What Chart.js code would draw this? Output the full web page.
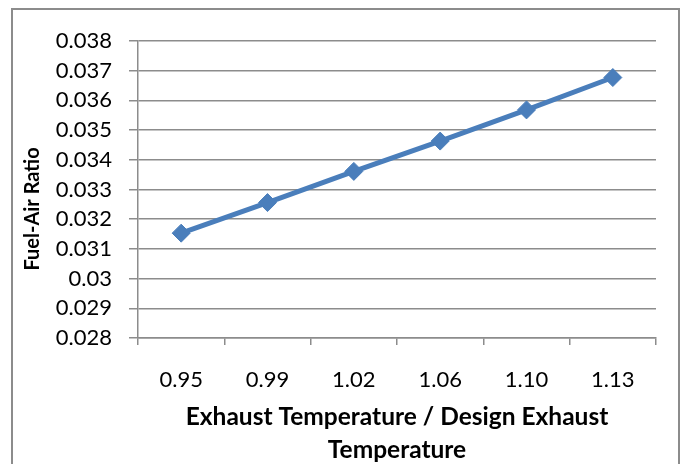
<!DOCTYPE html>
<html>
<head>
<meta charset="utf-8">
<script src="https://cdn.jsdelivr.net/npm/chart.js@4"></script>
<style>
  html, body { margin: 0; padding: 0; background: #fff; }
  #wrap { position: relative; width: 689px; height: 464px; }
</style>
</head>
<body>
<div id="wrap"><canvas id="chart" width="689" height="464"></canvas></div>
<script>
const categories = ["0.95", "0.99", "1.02", "1.06", "1.10", "1.13"];
const fuelAirRatio = [0.03153, 0.03256, 0.03361, 0.03463, 0.03568, 0.03677];
const yMin = 0.028;
const yMax = 0.038;
const yStep = 0.001;

const xTitle = ["Exhaust Temperature / Design Exhaust", "Temperature"];
// trailing spaces nudge the rotated title down a bit, like the original
const yTitle = "Fuel-Air Ratio" + "\u00a0".repeat(8);

// outer frame around the whole chart
const framePlugin = {
  id: "frame",
  beforeDraw(chart) {
    const ctx = chart.ctx;
    ctx.save();
    ctx.fillStyle = "#fff";
    ctx.fillRect(0, 0, chart.width, chart.height);
    ctx.strokeStyle = "#8c8c8c";
    ctx.lineWidth = 2;
    ctx.strokeRect(12, 9, 667, 480);
    ctx.restore();
  },
};

const gridGrey = "#8c8c8c";

new Chart(document.getElementById("chart"), {
  type: "line",
  data: {
    labels: categories,
    datasets: [
      {
        data: fuelAirRatio,
        borderColor: "#4a7ebb",
        backgroundColor: "#4a7ebb",
        borderWidth: 5,
        pointStyle: "rectRot",
        pointRadius: 9,
        pointBorderWidth: 1,
        tension: 0,
      },
    ],
  },
  options: {
    responsive: false,
    animation: false,
    layout: { padding: { left: 0, right: 33, top: 41, bottom: 0 } },
    plugins: { legend: { display: false }, tooltip: { enabled: false } },
    scales: {
      x: {
        offset: true,
        grid: {
          offset: true,
          drawOnChartArea: false,
          drawTicks: true,
          tickLength: 7,
          color: gridGrey,
          lineWidth: 1.5,
        },
        border: { color: gridGrey, width: 1.5 },
        ticks: {
          color: "#000",
          padding: 22,
          maxRotation: 0,
          font: { family: "Lato", size: 22 },
        },
        title: {
          display: true,
          text: xTitle,
          color: "#000",
          padding: { top: 0, bottom: -2.5 },
          font: { family: "Lato", size: 24.5, weight: "bold", lineHeight: 1.35 },
        },
        afterFit(scale) {
          scale.height = 126;
        },
      },
      y: {
        min: yMin,
        max: yMax,
        grid: {
          color: gridGrey,
          lineWidth: 1.5,
          tickLength: 9,
        },
        border: { color: gridGrey, width: 1.5 },
        ticks: {
          stepSize: yStep,
          color: "#000",
          padding: 17,
          font: { family: "Lato", size: 22 },
          callback: (v) => parseFloat(v.toFixed(3)).toString(),
        },
        title: {
          display: true,
          text: yTitle,
          color: "#000",
          padding: { top: 21, bottom: 0 },
          font: { family: "Lato", size: 20, weight: "bold" },
        },
        afterFit(scale) {
          scale.width = 138;
        },
      },
    },
  },
  plugins: [framePlugin],
});
</script>
</body>
</html>
